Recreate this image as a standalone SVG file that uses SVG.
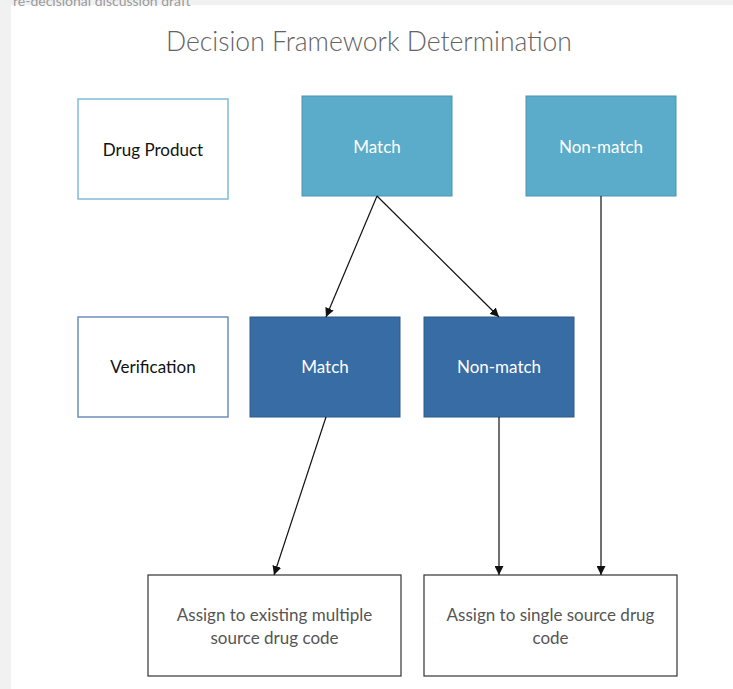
<svg xmlns="http://www.w3.org/2000/svg" width="733" height="689" viewBox="0 0 733 689">
  <defs>
    <marker id="arrow" viewBox="0 0 10 10" refX="10" refY="5" markerWidth="9" markerHeight="9" markerUnits="userSpaceOnUse" orient="auto">
      <path d="M0,0 L10,5 L0,10 z" fill="#111"/>
    </marker>
    <style>
      .page { fill: #ffffff; }
      .label { font-family: Lato, "Open Sans", "Liberation Sans", sans-serif; font-size: 17px; text-anchor: middle; }
      .dark { fill: #111111; }
      .light { fill: #ffffff; }
      .grey { fill: #555555; }
      .hdr-outline { fill: #ffffff; stroke: #7cbdd6; stroke-width: 1.5; }
      .ver-outline { fill: #ffffff; stroke: #6c8fbf; stroke-width: 1.5; }
      .dp-fill { fill: #5aacca; stroke: #4d94b2; stroke-width: 1; }
      .ver-fill { fill: #386ca4; stroke: #2d5a8a; stroke-width: 1; }
      .outcome { fill: #ffffff; stroke: #333333; stroke-width: 1.2; }
      .conn { stroke: #111111; stroke-width: 1.2; fill: none; marker-end: url(#arrow); }
    </style>
  </defs>

  <!-- page background with grey margins -->
  <rect x="0" y="0" width="733" height="689" fill="#f1f1f1"/>
  <rect class="page" x="11" y="5" width="722" height="684"/>

  <!-- header line, clipped by the page edge -->
  <text x="13" y="6" font-family="Lato, 'Open Sans', 'Liberation Sans', sans-serif" font-size="14" fill="#9a9a9a">re-decisional discussion draft</text>

  <!-- title -->
  <text x="369" y="51" font-family="Lato, 'Open Sans', 'Liberation Sans', sans-serif" font-size="26.5" font-weight="300" fill="#636363" text-anchor="middle">Decision Framework Determination</text>

  <!-- row 1: drug product -->
  <g id="drug-product">
    <rect class="hdr-outline" x="78" y="99" width="150" height="100"/>
    <text class="label dark" x="153" y="156">Drug Product</text>
  </g>
  <g id="dp-match">
    <rect class="dp-fill" x="302" y="96" width="150" height="100"/>
    <text class="label light" x="377" y="153">Match</text>
  </g>
  <g id="dp-nonmatch">
    <rect class="dp-fill" x="526" y="96" width="150" height="100"/>
    <text class="label light" x="601" y="153">Non-match</text>
  </g>

  <!-- row 2: verification -->
  <g id="verification">
    <rect class="ver-outline" x="78" y="317" width="150" height="100"/>
    <text class="label dark" x="153" y="373">Verification</text>
  </g>
  <g id="ver-match">
    <rect class="ver-fill" x="250" y="317" width="150" height="100"/>
    <text class="label light" x="325" y="373">Match</text>
  </g>
  <g id="ver-nonmatch">
    <rect class="ver-fill" x="424" y="317" width="150" height="100"/>
    <text class="label light" x="499" y="373">Non-match</text>
  </g>

  <!-- row 3: outcomes -->
  <g id="multi-source">
    <rect class="outcome" x="148" y="575" width="253" height="101"/>
    <text class="label grey" x="274.5" y="621">Assign to existing multiple</text>
    <text class="label grey" x="274.5" y="644">source drug code</text>
  </g>
  <g id="single-source">
    <rect class="outcome" x="424" y="575" width="253" height="101"/>
    <text class="label grey" x="550.5" y="621">Assign to single source drug</text>
    <text class="label grey" x="550.5" y="644">code</text>
  </g>

  <!-- connectors -->
  <g id="connectors">
    <line class="conn" x1="377" y1="196" x2="326" y2="317"/>
    <line class="conn" x1="377" y1="196" x2="499" y2="317"/>
    <line class="conn" x1="601" y1="196" x2="601" y2="575"/>
    <line class="conn" x1="326" y1="417" x2="274" y2="575"/>
    <line class="conn" x1="499" y1="417" x2="499" y2="575"/>
  </g>
</svg>
